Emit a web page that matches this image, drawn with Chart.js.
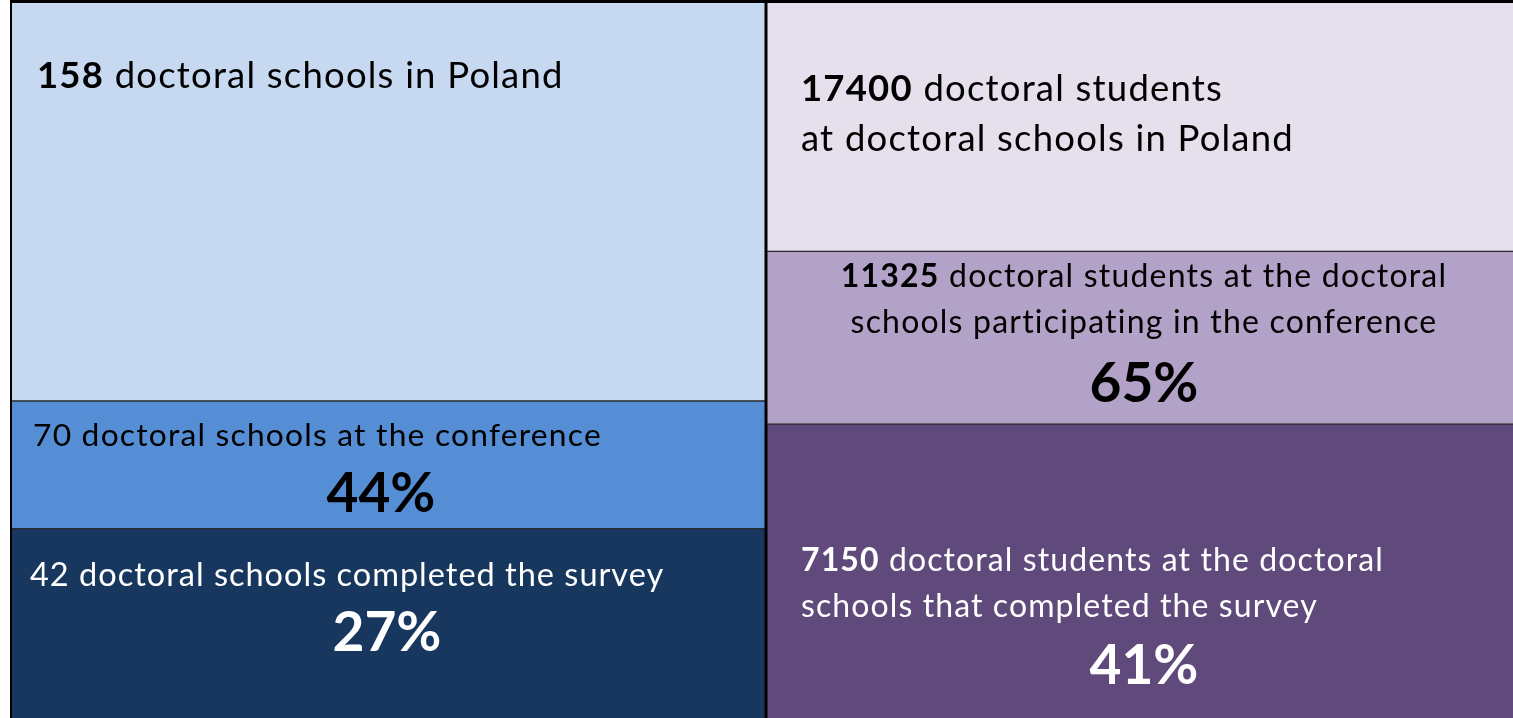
<!DOCTYPE html>
<html>
<head>
<meta charset="utf-8">
<script src="https://cdn.jsdelivr.net/npm/chart.js@4"></script>
<style>
html,body{margin:0;padding:0;background:#fff;overflow:hidden;}
#wrap{width:1513px;height:718px;overflow:hidden;}
canvas{display:block;}
</style>
</head>
<body>
<div id="wrap"><canvas id="c" width="1522" height="720"></canvas></div>
<script>
// ---- data ----
const columns = ['Doctoral schools', 'Doctoral students'];
const schoolCounts = [158, 70, 42];        // in Poland, at conference, completed survey
const studentCounts = [17400, 11325, 7150]; // in Poland, at participating schools, at surveyed schools
const schoolPercents = ['', '44%', '27%'];
const studentPercents = ['', '65%', '41%'];
const schoolTexts = [
  [['158', ' doctoral schools in Poland']],
  [['', '70 doctoral schools at the conference']],
  [['', '42 doctoral schools completed the survey']]
];
const studentTexts = [
  [['17400', ' doctoral students'], ['', 'at doctoral schools in Poland']],
  [['11325', ' doctoral students at the doctoral'], ['', 'schools participating in the conference']],
  [['7150', ' doctoral students at the doctoral'], ['', 'schools that completed the survey']]
];
const schoolColors = ['#C6D9F1', '#558ED5', '#17375E'];
const studentColors = ['#E5E0EC', '#B3A2C7', '#604A7B'];

// layer shares: bottom = survey, middle = conference minus survey, top = total minus conference
function layers(c) { return [c[2] / c[0], (c[1] - c[2]) / c[0], (c[0] - c[1]) / c[0]]; }
const sL = layers(schoolCounts), tL = layers(studentCounts);
const levels = [2, 1, 0]; // dataset order bottom -> top

// ---- styles (positions relative to each block) ----
const FONT = 'Lato, "Open Sans", sans-serif';
const style = {
  0: {
    0: {size: 36.5, ls: 1.2, align: 'left', dx: 27, lines: [76], color: '#000'},
    1: {size: 31.8, ls: 1.2, align: 'left', dx: 23, lines: [35], pctY: 93, pctDx: -7, pctSize: 55, color: '#000'},
    2: {size: 32.5, ls: 1.0, align: 'left', dx: 20, lines: [47], pctY: 105, pctDx: -1, pctSize: 55, color: '#fff'}
  },
  1: {
    0: {size: 36.5, ls: 1.2, align: 'left', dx: 35, lines: [89, 139], color: '#000'},
    1: {size: 32, ls: 1.2, align: 'center', dx: 0, lines: [25, 71], pctY: 133, pctDx: 0, pctSize: 55, color: '#000'},
    2: {size: 32, ls: 1.1, align: 'left', dx: 35, lines: [137, 183], pctY: 242, pctDx: 0, pctSize: 55, color: '#fff'}
  }
};

const datasets = levels.map((lv, i) => ({
  label: 'level' + lv,
  data: [sL[i], tL[i]],
  backgroundColor: [schoolColors[lv], studentColors[lv]],
  borderColor: '#2a2a2a',
  borderSkipped: false,
  borderWidth: (ctx) => ({top: 1, bottom: i === 0 ? 0 : 1, left: 1, right: ctx.dataIndex === 1 ? 0 : 1}),
  barPercentage: 1,
  categoryPercentage: 1,
  level: lv
}));

const textPlugin = {
  id: 'blockText',
  afterDatasetsDraw(chart) {
    const ctx = chart.ctx;
    chart.data.datasets.forEach((ds, di) => {
      const meta = chart.getDatasetMeta(di);
      meta.data.forEach((el, col) => {
        const lv = ds.level;
        const st = style[col][lv];
        const left = el.x - el.width / 2, right = el.x + el.width / 2;
        const top = Math.min(el.y, el.base);
        const cx = (left + right) / 2;
        const lines = col === 0 ? schoolTexts[lv] : studentTexts[lv];
        const pct = col === 0 ? schoolPercents[lv] : studentPercents[lv];
        ctx.save();
        ctx.fillStyle = st.color;
        ctx.textBaseline = 'middle';
        ctx.textAlign = 'left';
        ctx.letterSpacing = st.ls + 'px';
        lines.forEach((ln, k) => {
          const bFont = 'bold ' + st.size + 'px ' + FONT;
          const nFont = st.size + 'px ' + FONT;
          ctx.font = bFont; const wb = ln[0] ? ctx.measureText(ln[0]).width : 0;
          ctx.font = nFont; const wn = ctx.measureText(ln[1]).width;
          let x = st.align === 'center' ? cx + st.dx - (wb + wn) / 2 : left + st.dx;
          const y = top + st.lines[k];
          if (ln[0]) { ctx.font = bFont; ctx.fillText(ln[0], x, y); x += wb; }
          ctx.font = nFont; ctx.fillText(ln[1], x, y);
        });
        if (pct) {
          ctx.letterSpacing = '0px';
          ctx.font = 'bold ' + st.pctSize + 'px ' + FONT;
          ctx.textAlign = 'center';
          ctx.fillText(pct, cx + st.pctDx, top + st.pctY);
        }
        ctx.restore();
      });
    });
  },
  afterDraw(chart) {
    const ctx = chart.ctx, a = chart.chartArea;
    const el = chart.getDatasetMeta(0).data[1];
    const divX = el.x - el.width / 2;
    ctx.save();
    ctx.strokeStyle = '#000';
    ctx.lineWidth = 3;
    ctx.beginPath(); ctx.moveTo(a.left, a.top + 1.5); ctx.lineTo(a.right, a.top + 1.5); ctx.stroke();
    ctx.lineWidth = 2;
    ctx.beginPath(); ctx.moveTo(a.left + 1, a.top); ctx.lineTo(a.left + 1, a.bottom); ctx.stroke();
    ctx.lineWidth = 3;
    ctx.beginPath(); ctx.moveTo(divX, a.top); ctx.lineTo(divX, a.bottom); ctx.stroke();
    ctx.restore();
  }
};

new Chart(document.getElementById('c'), {
  type: 'bar',
  data: {labels: columns, datasets},
  options: {
    responsive: false,
    animation: false,
    events: [],
    layout: {padding: {left: 10, right: 0, top: 0, bottom: 0}},
    plugins: {legend: {display: false}, tooltip: {enabled: false}},
    scales: {
      x: {stacked: true, display: false},
      y: {stacked: true, display: false, min: 0, max: 1}
    }
  },
  plugins: [textPlugin]
});
</script>
</body>
</html>
